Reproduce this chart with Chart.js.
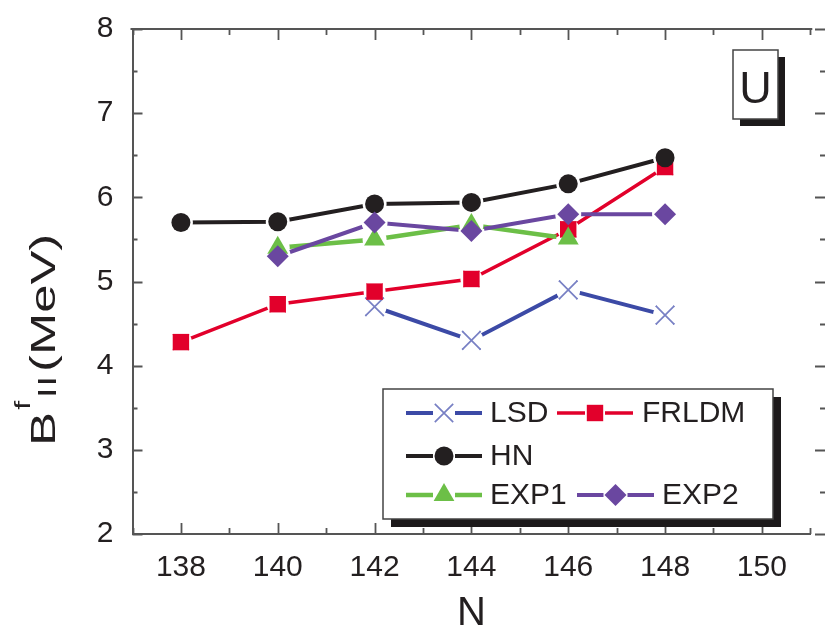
<!DOCTYPE html>
<html>
<head>
<meta charset="utf-8">
<script src="https://cdn.jsdelivr.net/npm/chart.js@4.4.1/dist/chart.umd.min.js"></script>
<style>
  html, body { margin: 0; padding: 0; background: #fff; overflow: hidden; }
  canvas { display: block; }
</style>
</head>
<body>
<canvas id="chart" width="825" height="635"></canvas>
<script>
// neutron number
var N = [138, 140, 142, 144, 146, 148];
// second barrier heights, MeV (null = no value)
var LSD   = [null, null, 4.70, 4.30, 4.90, 4.60];
var FRLDM = [4.28, 4.73, 4.88, 5.03, 5.62, 6.36];
var HN    = [5.70, 5.71, 5.92, 5.94, 6.16, 6.47];
var EXP1  = [null, 5.40, 5.50, 5.67, 5.51, null];
var EXP2  = [null, 5.30, 5.70, 5.60, 5.80, 5.80];
var xTicks = [138, 140, 142, 144, 146, 148, 150];
var yTicks = [2, 3, 4, 5, 6, 7, 8];

var FONT = "'Liberation Sans', Arial, sans-serif";
var INK = '#231f20';
var AXIS = '#555';

function pts(vals) {
    var out = [];
    vals.forEach(function (v, i) { if (v !== null) out.push({x: N[i], y: v}); });
    return out;
}

function series(label, vals, color, lw, style, radius, extra) {
    var ds = {
        label: label,
        data: pts(vals),
        borderColor: color,
        borderWidth: lw,
        backgroundColor: color,
        pointStyle: style,
        pointRadius: radius,
        pointBackgroundColor: color,
        pointBorderColor: color,
        pointBorderWidth: 0,
        gap: 12,
        tension: 0
    };
    for (var k in extra) ds[k] = extra[k];
    return ds;
}

var datasets = [
    series('LSD', LSD, '#3c4aa6', 4, 'crossRot', 13, {pointBorderColor: '#7880c4', pointBorderWidth: 1.7, order: 5, gap: 12}),
    series('FRLDM', FRLDM, '#e2002b', 3.5, 'rect', 11.6, {order: 4, gap: 11}),
    series('HN', HN, INK, 4, 'circle', 9.5, {order: 3, gap: 12}),
    series('EXP1', EXP1, '#6cbf47', 4.5, 'triangle', 12, {order: 2, gap: 12}),
    series('EXP2', EXP2, '#6a47a0', 4, 'rectRot', 11, {order: 1, gap: 13})
];

// cut the connecting line short of every symbol, then draw the symbols on top
var gapPlugin = {
    id: 'gaps',
    beforeDatasetDraw: function (chart, args) {
        var ctx = chart.ctx;
        var r = chart.data.datasets[args.index].gap;
        ctx.save();
        ctx.beginPath();
        ctx.rect(0, 0, chart.width, chart.height);
        args.meta.data.forEach(function (p) {
            ctx.moveTo(p.x + r, p.y);
            ctx.arc(p.x, p.y, r, 0, Math.PI * 2);
        });
        ctx.clip('evenodd');
    },
    afterDatasetDraw: function (chart, args) {
        chart.ctx.restore();
        args.meta.data.forEach(function (p) { p.draw(chart.ctx, chart.chartArea); });
    }
};

// inward ticks on all four sides + top frame line
var framePlugin = {
    id: 'frame',
    afterDraw: function (chart) {
        var ctx = chart.ctx, a = chart.chartArea;
        var xs = chart.scales.x, ys = chart.scales.y;
        ctx.save();
        ctx.strokeStyle = AXIS;
        ctx.lineWidth = 2;
        ctx.beginPath();
        ctx.moveTo(a.left - 2, a.top);
        ctx.lineTo(a.right + 2, a.top);
        ctx.stroke();
        ctx.lineWidth = 1.8;
        ctx.beginPath();
        for (var v = 137; v <= 151; v++) {
            var px = Math.round(xs.getPixelForValue(v)) + 0.5;
            var len = v % 2 === 0 ? 11 : 6;
            ctx.moveTo(px, a.bottom); ctx.lineTo(px, a.bottom - len);
            ctx.moveTo(px, a.top); ctx.lineTo(px, a.top + len);
        }
        for (var w = 2; w <= 8; w += 0.5) {
            var py = Math.round(ys.getPixelForValue(w)) + 0.5;
            var l2 = w % 1 === 0 ? 10 : 5;
            ctx.moveTo(a.left, py); ctx.lineTo(a.left + l2, py);
            ctx.moveTo(chart.width, py); ctx.lineTo(chart.width - l2, py);
        }
        ctx.stroke();
        ctx.restore();
    }
};

function shadowBox(ctx, x, y, w, h, off) {
    ctx.fillStyle = '#1d1a1b';
    ctx.fillRect(x + off, y + off, w, h);
    ctx.fillStyle = '#fff';
    ctx.fillRect(x, y, w, h);
    ctx.strokeStyle = '#444';
    ctx.lineWidth = 1.5;
    ctx.strokeRect(x, y, w, h);
}

function drawMarker(ctx, ds, x, y) {
    ctx.fillStyle = ds.pointBackgroundColor;
    ctx.strokeStyle = ds.pointBorderColor;
    ctx.lineWidth = ds.pointBorderWidth;
    Chart.helpers.drawPoint(ctx, {
        pointStyle: ds.pointStyle, radius: ds.pointRadius,
        rotation: 0, borderWidth: ds.pointBorderWidth
    }, x, y);
}

// legend entries: dataset index, row centre, sample start/end, text start
var legendItems = [
    {i: 0, y: 413, x0: 406, x1: 482, tx: 490},
    {i: 1, y: 413, x0: 557, x1: 633, tx: 642},
    {i: 2, y: 456, x0: 406, x1: 482, tx: 490},
    {i: 3, y: 495, x0: 406, x1: 482, tx: 490},
    {i: 4, y: 495, x0: 577, x1: 654, tx: 662}
];

var annotatePlugin = {
    id: 'annotate',
    afterDraw: function (chart) {
        var ctx = chart.ctx;
        ctx.save();
        // element label box
        shadowBox(ctx, 733, 50, 45, 69, 7);
        ctx.fillStyle = INK;
        ctx.font = '45px ' + FONT;
        ctx.textAlign = 'center';
        ctx.textBaseline = 'alphabetic';
        ctx.fillText('U', 755.5, 102.5);

        // legend
        shadowBox(ctx, 383, 389, 390, 130, 8);
        ctx.font = '30px ' + FONT;
        ctx.textAlign = 'left';
        ctx.textBaseline = 'middle';
        legendItems.forEach(function (it) {
            var ds = chart.data.datasets[it.i];
            var mx = (it.x0 + it.x1) / 2;
            ctx.strokeStyle = ds.borderColor;
            ctx.lineWidth = ds.borderWidth;
            ctx.beginPath();
            ctx.moveTo(it.x0, it.y); ctx.lineTo(mx - ds.gap + 1, it.y);
            ctx.moveTo(mx + ds.gap - 1, it.y); ctx.lineTo(it.x1, it.y);
            ctx.stroke();
            drawMarker(ctx, ds, mx, it.y);
            ctx.fillStyle = INK;
            ctx.fillText(ds.label, it.tx, it.y + 1);
        });

        // y axis title  B^f_II (MeV), rotated and drawn a little wide
        ctx.translate(55, 443);
        ctx.rotate(-Math.PI / 2);
        ctx.scale(1.45, 1);
        ctx.textAlign = 'left';
        ctx.textBaseline = 'alphabetic';
        ctx.fillStyle = INK;
        ctx.font = '35px ' + FONT;
        ctx.fillText('B', -2, 0);
        ctx.font = '22px ' + FONT;
        ctx.fillText('f', 23, -25);
        ctx.font = '26px ' + FONT;
        ctx.fillText('I', 31, 1);
        ctx.fillText('I', 39, 1);
        ctx.font = '35px ' + FONT;
        ctx.fillText('(MeV)', 49, 0);
        ctx.restore();
    }
};

new Chart(document.getElementById('chart'), {
    type: 'line',
    data: {datasets: datasets},
    plugins: [gapPlugin, framePlugin, annotatePlugin],
    options: {
        responsive: false,
        animation: false,
        layout: {padding: {top: 24, right: 0, left: 0, bottom: 0}},
        plugins: {legend: {display: false}, tooltip: {enabled: false}},
        scales: {
            x: {
                type: 'linear', min: 137, max: 151,
                afterFit: function (s) { s.height = 101; },
                afterBuildTicks: function (s) { s.ticks = xTicks.map(function (v) { return {value: v}; }); },
                ticks: {font: {family: FONT, size: 30}, color: INK, padding: 8, maxRotation: 0, autoSkip: false},
                grid: {display: false},
                border: {color: AXIS, width: 2},
                title: {display: true, text: 'N', color: INK, font: {family: FONT, size: 40}, padding: {top: 0, bottom: -3}}
            },
            y: {
                min: 2, max: 8,
                afterFit: function (s) { s.width = 132.5; },
                afterBuildTicks: function (s) { s.ticks = yTicks.map(function (v) { return {value: v}; }); },
                ticks: {font: {family: FONT, size: 30}, color: INK, padding: 11},
                grid: {display: false},
                border: {color: AXIS, width: 2}
            }
        }
    }
});
</script>
</body>
</html>
